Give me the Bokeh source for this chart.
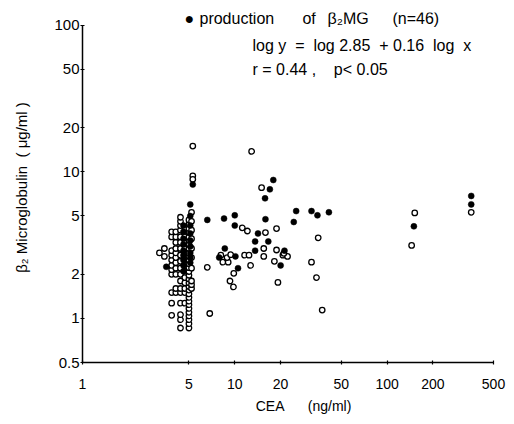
from bokeh.plotting import figure
from bokeh.models import FixedTicker, Label
from bokeh.embed import file_html
from bokeh.resources import INLINE

# ---- data ----
# open circles: dense columns near CEA ~ 3-5 ng/ml
col_x = [3.2, 3.45, 3.85, 4.1, 4.4, 4.7, 5.0, 5.2, 5.3]
col_y = [
    [2.8],
    [3.0, 2.65],
    [1.05, 1.27, 1.5, 2.0, 2.15, 2.3, 2.5, 2.7, 2.9, 3.6, 3.9],
    [1.5, 1.6, 2.0, 2.2, 2.4, 2.6, 2.8, 3.0, 3.3, 3.6, 3.9],
    [0.86, 0.98, 1.06, 1.27, 1.5, 1.6, 1.8, 2.0, 2.2, 2.45, 2.7, 3.0, 3.3, 3.6, 4.0, 4.3, 4.6, 4.9],
    [1.27, 1.5, 1.6, 1.75, 1.9, 2.1, 2.3, 2.5, 2.7, 3.0, 3.3, 3.6],
    [0.86, 0.92, 0.98, 1.04, 1.1, 1.17, 1.24, 1.31, 1.39, 1.47, 1.56, 1.65, 1.75, 1.86,
     1.97, 2.09, 2.22, 2.36, 2.5, 2.65, 2.8, 3.0, 3.2, 3.4, 3.6, 3.85, 4.1, 4.4, 4.7],
    [1.6, 1.7, 1.8, 2.2, 2.6, 3.0, 3.5, 4.0, 4.6, 5.3],
    [15.0, 9.4, 8.9],
]
# open circles elsewhere
open_x = [12.9, 15.0, 18.8, 15.9, 11.2, 12.1, 35.3, 15.5, 18.8, 15.5, 18.2, 20.7, 22.2, 21.0,
          31.9, 34.4, 19.2, 37.5, 145, 152, 357, 6.6, 6.85, 8.1, 8.35, 9.05, 8.9, 9.4, 9.85,
          9.3, 9.8, 11.6, 12.4, 12.7]
open_y = [13.8, 7.8, 4.1, 3.85, 4.15, 3.95, 3.55, 3.0, 2.93, 2.65, 2.45, 2.7, 2.65, 2.78,
          2.42, 1.9, 1.76, 1.14, 3.15, 5.25, 5.3, 2.23, 1.08, 2.7, 2.42, 2.42, 2.6, 2.72, 2.03,
          1.8, 1.64, 2.7, 2.7, 2.3]
# filled circles: production of B2MG (n=46)
filled_x = [5.3, 5.1, 6.6, 8.5, 10.0, 10.0, 8.6, 7.9, 10.1, 10.5, 13.6, 14.2, 13.6, 15.9, 15.8,
            17.0, 17.9, 16.6, 21.2, 20.0, 24.4, 25.3, 31.9, 34.9, 41.5, 150, 357, 357, 3.55,
            4.6, 4.6, 4.6, 4.6, 4.6, 4.6, 4.6, 4.6, 4.6,
            5.1, 5.1, 5.1, 5.1, 5.1, 5.1, 5.1, 5.1]
filled_y = [8.2, 6.0, 4.7, 4.8, 5.05, 4.3, 3.0, 2.6, 2.65, 2.2, 3.35, 3.8, 2.9, 4.75, 6.6,
            7.6, 8.8, 3.35, 2.9, 2.3, 4.55, 5.4, 5.4, 5.05, 5.3, 4.25, 6.85, 6.0, 2.25,
            2.1, 2.3, 2.5, 2.7, 2.9, 3.2, 3.5, 3.9, 4.3,
            2.4, 2.6, 2.8, 3.1, 3.4, 3.8, 4.3, 5.0]

x_ticks = [1, 5, 10, 20, 50, 100, 200, 500]
y_ticks = [0.5, 1, 2, 5, 10, 20, 50, 100]

all_open_x = list(open_x)
all_open_y = list(open_y)
for cx, ys in zip(col_x, col_y):
    all_open_x += [cx] * len(ys)
    all_open_y += ys

FONT = "Liberation Sans"
NB = "\u00a0"

p = figure(width=506, height=416, x_axis_type="log", y_axis_type="log",
           x_range=(1, 500), y_range=(0.5, 122.4),
           output_backend="svg", toolbar_location=None,
           min_border_left=82, min_border_right=13, min_border_top=12, min_border_bottom=51)
p.outline_line_color = None
p.xgrid.visible = False
p.ygrid.visible = False

p.scatter(all_open_x, all_open_y, marker="circle", size=5.5, fill_color="white",
          line_color="black", line_width=1.3)
p.scatter(filled_x, filled_y, marker="circle", size=6, fill_color="black",
          line_color="black", line_width=0.5)

p.xaxis.ticker = FixedTicker(ticks=x_ticks, minor_ticks=[])
p.yaxis.ticker = FixedTicker(ticks=y_ticks, minor_ticks=[])
p.xaxis.major_label_overrides = {t: str(t) for t in x_ticks}
p.yaxis.major_label_overrides = {t: str(t) for t in y_ticks}
p.xaxis.bounds = (1, 500)
p.yaxis.bounds = (0.5, 100)

for ax in (p.xaxis, p.yaxis):
    ax.axis_line_width = 1.5
    ax.axis_line_color = "black"
    ax.major_tick_line_color = "black"
    ax.major_tick_line_width = 1.2
    ax.major_tick_in = 2
    ax.major_tick_out = 2
    ax.minor_tick_line_color = None
    ax.major_label_text_font = FONT
    ax.major_label_text_color = "black"
    ax.axis_label_text_font = FONT
    ax.axis_label_text_font_style = "normal"
    ax.axis_label_text_color = "black"

p.xaxis.major_label_text_font_size = "14px"
p.yaxis.major_label_text_font_size = "15px"
p.xaxis.axis_label_text_font_size = "14px"
p.yaxis.axis_label_text_font_size = "15px"

p.xaxis.axis_label = NB * 8 + "CEA" + NB * 6 + "(ng/ml)"
p.xaxis.major_label_standoff = 14
p.xaxis.axis_label_standoff = 6
p.yaxis.axis_label = "β₂" + NB + "Microglobulin" + NB * 2 + "(" + NB + "μg/ml" + NB + ")"
p.yaxis.major_label_standoff = 1
p.yaxis.axis_label_standoff = 21


def px_x(px):
    # horizontal screen position -> CEA value on the log axis
    return 10 ** ((px - 82) / 152.3)


def px_y(py):
    # vertical screen position -> B2MG value on the log axis
    return 10 ** ((321 - py) / 148.0)


notes = [
    (184, 18, "●"),
    (199, 18, "production"),
    (302, 18, "of"),
    (327, 18, "β₂MG"),
    (392, 18, "(n=46)"),
    (252, 45, "log" + NB + "y" + NB * 2 + "=" + NB * 2 + "log 2.85" + NB * 2 + "+ 0.16" + NB * 2 + "log" + NB * 2 + "x"),
    (252, 70, "r = 0.44 ," + NB * 4 + "p< 0.05"),
]
for nx, ny, t in notes:
    p.add_layout(Label(x=px_x(nx), y=px_y(ny), text=t, text_font=FONT, text_font_size="16px",
                       text_baseline="middle", text_align="left", text_color="black"))

open("out.html", "w").write(file_html(p, INLINE))
